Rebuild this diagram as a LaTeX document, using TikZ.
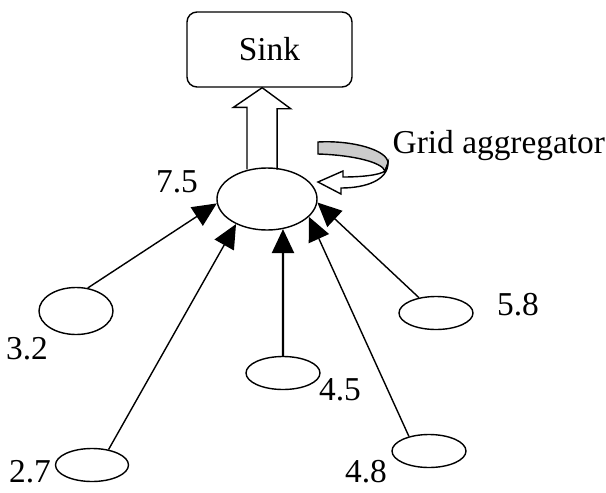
\documentclass[tikz,border=0pt]{standalone}
\usepackage{fontspec}
\setmainfont{Liberation Serif}
\usetikzlibrary{arrows.meta,shapes.geometric}

\begin{document}
\begin{tikzpicture}[x=0.03cm,y=-0.03cm,>={Triangle[length=0.72cm,width=0.66cm]},line width=1.2pt,font=\fontsize{28.5}{32}\selectfont,
    leaf node/.style={ellipse,draw,minimum width=2.22cm,minimum height=0.99cm,inner sep=0pt},
    value/.style={inner sep=0pt}]

                \useasboundingbox (0,0) rectangle (606,492);

                \node[draw, rounded corners=0.3cm, minimum width=4.95cm, minimum height=2.25cm] (sink) at (269.5,49.5) {Sink};
                \node[ellipse, draw, fill=white, minimum width=3cm, minimum height=1.86cm, inner sep=0pt] (agg) at (267,199) {};

                \node[leaf node, minimum height=1.41cm] (n32) at (76,311) {};
                \node[leaf node, minimum width=2.19cm] (n27) at (92,465) {};
                \node[leaf node] (n45) at (283,373) {};
                \node[leaf node] (n58) at (436,313) {};
                \node[leaf node] (n48) at (429,451) {};

                \node[value] (l75) at (177,182) {7.5};
                \node[value] (l32) at (27,349) {3.2};
                \node[value] (l27) at (30,472) {2.7};
                \node[value] (l45) at (340,390) {4.5};
                \node[value] (l58) at (518,305) {5.8};
                \node[value] (l48) at (366,472) {4.8};
                \node[value, anchor=west] (grid) at (392,146) {Grid aggregator};

                % hollow arrow up to the sink
                \draw (agg.north) ++(-20,2) -- ++(0,-62) -- ++(-13.5,0) -- ([xshift=-0.22cm]sink.south) -- ++(28.5,21) -- ++(-13.5,0) -- ++(0,61);

                % curved arrow of the grid aggregator
                \draw[fill=gray!40] (318,142) .. controls (352,140) and (388,150) .. (388,163) -- (385,171) .. controls (382,162) and (352,155) .. (318,154) -- cycle;
                \draw[fill=white] (388,163) .. controls (388,180) and (366,188) .. (341,188) -- (341,194) -- (318,182) -- (343,171) -- (343,177) .. controls (362,177) and (380,175) .. (385,171) -- cycle;

                \draw[->] (n32.63) to (agg.185);
                \draw[->] (n27.43) to (agg.219);
                \draw[->, line width=2pt] (n45) to (agg.-62);
                \draw[->] (n48.144) to (agg.-23);
                \draw[->] (n58.138) to (agg.-4);

                ;
            \end{tikzpicture}
\end{document}
